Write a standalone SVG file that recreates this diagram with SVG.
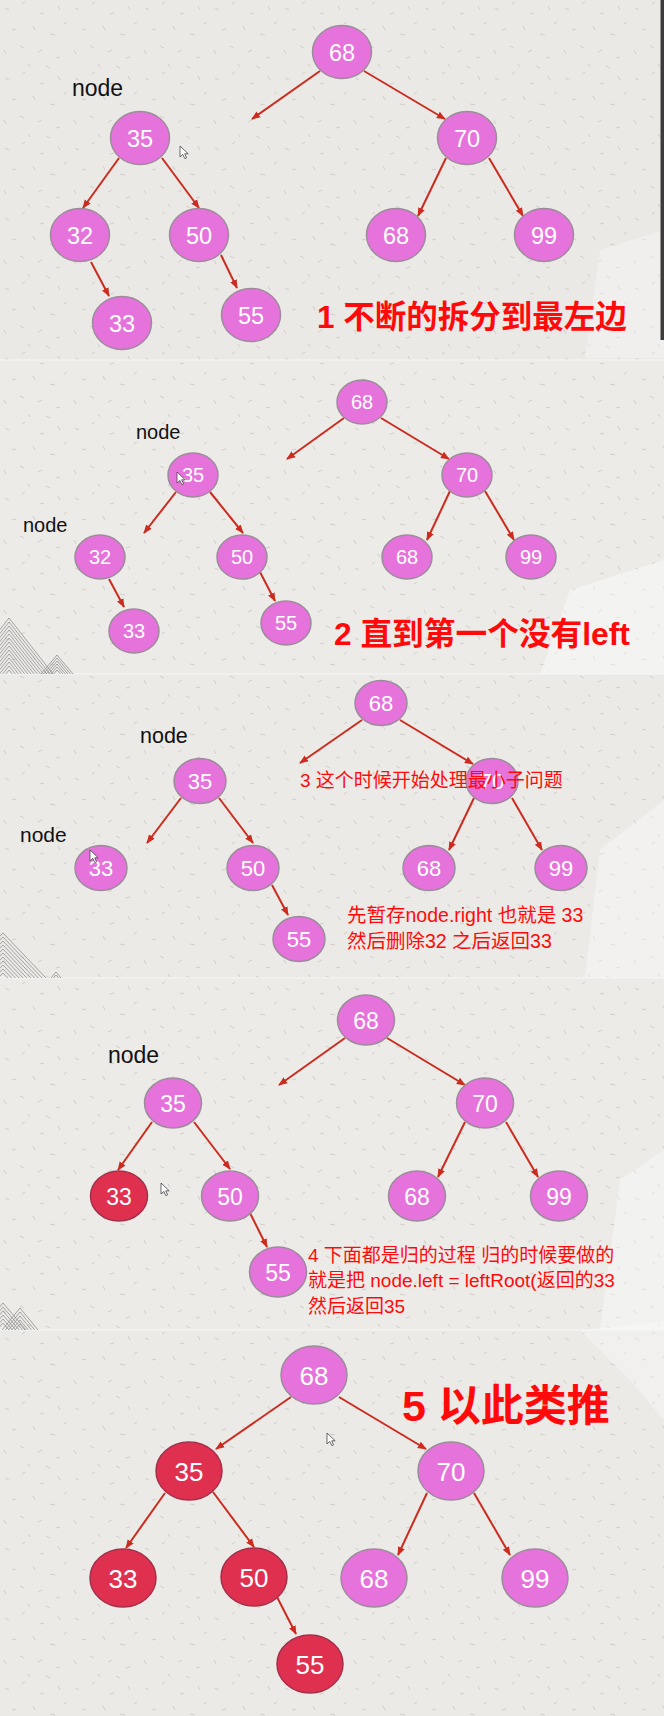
<svg xmlns="http://www.w3.org/2000/svg" xmlns:xlink="http://www.w3.org/1999/xlink" width="664" height="1716" viewBox="0 0 664 1716">
<defs>
<style>
.n{fill:#E673DB;stroke:#9c8b9b;stroke-width:1.5}
.r{fill:#E0304F;stroke:#a3304a;stroke-width:1.5}
.t{fill:#ffffff;font-family:"Liberation Sans","DejaVu Sans",sans-serif;text-anchor:middle}
.e line{stroke:#cc2b1f;stroke-width:2;marker-end:url(#ah)}
.lbl{fill:#111111;font-family:"Liberation Sans","DejaVu Sans",sans-serif}
.red{fill:#ff0a0a;font-family:"Liberation Sans","Noto Sans CJK SC",sans-serif}
.big{font-weight:bold}
.cur{fill:#ffffff;stroke:#444444;stroke-width:0.8}
.hatch{fill:none;stroke:#8f8f8f;stroke-width:0.8}
</style>
<marker id="ah" viewBox="0 0 10 10" refX="9" refY="5" markerWidth="9" markerHeight="9" markerUnits="userSpaceOnUse" orient="auto">
<path d="M0,1 L10,5 L0,9 z" fill="#cc2b1f"/>
</marker>
<pattern id="tex" width="70" height="70" patternUnits="userSpaceOnUse">
<g stroke="#b0aeab" stroke-width="0.7" opacity="0.7">
<line x1="5" y1="8" x2="9" y2="10"/>
<line x1="22" y1="4" x2="25" y2="2"/>
<line x1="40" y1="14" x2="44" y2="13"/>
<line x1="58" y1="6" x2="60" y2="10"/>
<line x1="12" y1="30" x2="16" y2="29"/>
<line x1="33" y1="26" x2="35" y2="30"/>
<line x1="50" y1="34" x2="55" y2="35"/>
<line x1="64" y1="24" x2="67" y2="22"/>
<line x1="4" y1="50" x2="6" y2="54"/>
<line x1="20" y1="46" x2="24" y2="48"/>
<line x1="38" y1="52" x2="42" y2="50"/>
<line x1="56" y1="58" x2="60" y2="57"/>
<line x1="28" y1="64" x2="30" y2="67"/>
<line x1="46" y1="66" x2="50" y2="68"/>
</g>
</pattern>
<clipPath id="c2"><rect x="0" y="600" width="100" height="74"/></clipPath>
<clipPath id="c3"><rect x="0" y="900" width="100" height="78"/></clipPath>
<clipPath id="c4"><rect x="0" y="1260" width="100" height="70"/></clipPath>
<path id="cursor" d="M0,0 L0,11 L2.8,8.4 L4.8,12.6 L6.6,11.8 L4.7,7.8 L8.2,7.8 z"/>
</defs>

<g id="background">
<rect x="0" y="0" width="664" height="360" fill="#ebe9e6"/>
<rect x="0" y="360" width="664" height="314" fill="#ecebe8"/>
<rect x="0" y="674" width="664" height="304" fill="#ebeae7"/>
<rect x="0" y="978" width="664" height="352" fill="#ecebe8"/>
<rect x="0" y="1330" width="664" height="386" fill="#ebeae7"/>
<rect x="0" y="0" width="664" height="1716" fill="url(#tex)"/>
<path d="M600,250 L664,230 L664,358 L585,358 Z" fill="#ffffff" opacity="0.3"/>
<path d="M570,590 L664,560 L664,674 L540,674 Z" fill="#ffffff" opacity="0.4"/>
<path d="M600,850 L664,800 L664,978 L585,978 Z" fill="#ffffff" opacity="0.35"/>
<path d="M620,1180 L664,1150 L664,1330 L600,1330 Z" fill="#ffffff" opacity="0.35"/>
<path d="M580,1330 L664,1322 L664,1420 L630,1380 Z" fill="#ffffff" opacity="0.3"/>
<rect x="660.5" y="0" width="3.5" height="340" fill="#3c3c3c"/>
<line x1="0" y1="360" x2="664" y2="360" stroke="#f6f6f5" stroke-width="1"/>
<line x1="0" y1="674" x2="664" y2="674" stroke="#f6f6f5" stroke-width="1"/>
<line x1="0" y1="978" x2="664" y2="978" stroke="#f6f6f5" stroke-width="1"/>
<line x1="0" y1="1330" x2="664" y2="1330" stroke="#f6f6f5" stroke-width="1"/>
</g>

<g id="decorations">
<g clip-path="url(#c2)" class="hatch">
<path id="chevA" d="M-35,674 L9,618 L53,674"/>
<use xlink:href="#chevA" href="#chevA" y="4"/>
<use xlink:href="#chevA" href="#chevA" y="8"/>
<use xlink:href="#chevA" href="#chevA" y="12"/>
<use xlink:href="#chevA" href="#chevA" y="16"/>
<use xlink:href="#chevA" href="#chevA" y="20"/>
<use xlink:href="#chevA" href="#chevA" y="24"/>
<use xlink:href="#chevA" href="#chevA" y="28"/>
<use xlink:href="#chevA" href="#chevA" y="32"/>
<use xlink:href="#chevA" href="#chevA" y="36"/>
<use xlink:href="#chevA" href="#chevA" y="40"/>
<use xlink:href="#chevA" href="#chevA" y="44"/>
<use xlink:href="#chevA" href="#chevA" y="48"/>
<use xlink:href="#chevA" href="#chevA" y="52"/>
<path id="chevB" d="M41,674 L57,655 L73,674"/>
<use xlink:href="#chevB" href="#chevB" y="3"/>
<use xlink:href="#chevB" href="#chevB" y="6"/>
<use xlink:href="#chevB" href="#chevB" y="9"/>
<use xlink:href="#chevB" href="#chevB" y="12"/>
<use xlink:href="#chevB" href="#chevB" y="15"/>
</g>
<g clip-path="url(#c3)" class="hatch">
<path id="chevC" d="M-40,978 L3,933 L46,978"/>
<use xlink:href="#chevC" href="#chevC" y="4"/>
<use xlink:href="#chevC" href="#chevC" y="8"/>
<use xlink:href="#chevC" href="#chevC" y="12"/>
<use xlink:href="#chevC" href="#chevC" y="16"/>
<use xlink:href="#chevC" href="#chevC" y="20"/>
<use xlink:href="#chevC" href="#chevC" y="24"/>
<use xlink:href="#chevC" href="#chevC" y="28"/>
<use xlink:href="#chevC" href="#chevC" y="32"/>
<use xlink:href="#chevC" href="#chevC" y="36"/>
<use xlink:href="#chevC" href="#chevC" y="40"/>
<path id="chevD" d="M51,978 L56,972 L61,978"/>
<use xlink:href="#chevD" href="#chevD" y="3"/>
</g>
<g clip-path="url(#c4)" class="hatch">
<path id="chevE" d="M-20,1330 L3,1303 L26,1330"/>
<use xlink:href="#chevE" href="#chevE" y="4"/>
<use xlink:href="#chevE" href="#chevE" y="8"/>
<use xlink:href="#chevE" href="#chevE" y="12"/>
<use xlink:href="#chevE" href="#chevE" y="16"/>
<use xlink:href="#chevE" href="#chevE" y="20"/>
<path id="chevF" d="M2,1330 L20,1308 L38,1330"/>
<use xlink:href="#chevF" href="#chevF" y="4"/>
<use xlink:href="#chevF" href="#chevF" y="8"/>
<use xlink:href="#chevF" href="#chevF" y="12"/>
<use xlink:href="#chevF" href="#chevF" y="16"/>
</g>
</g>

<g id="connectors" class="e">
<!-- panel 1 -->
<line x1="320" y1="71" x2="252" y2="119"/>
<line x1="364" y1="71" x2="445" y2="119"/>
<line x1="119" y1="158" x2="83" y2="208"/>
<line x1="162" y1="158" x2="199" y2="208"/>
<line x1="446" y1="158" x2="418" y2="216"/>
<line x1="489" y1="158" x2="523" y2="216"/>
<line x1="91" y1="262" x2="109" y2="296"/>
<line x1="221" y1="255" x2="237" y2="288"/>
<!-- panel 2 -->
<line x1="344" y1="418" x2="287" y2="459"/>
<line x1="381" y1="418" x2="449" y2="459"/>
<line x1="176" y1="492" x2="144" y2="533"/>
<line x1="210" y1="492" x2="243" y2="533"/>
<line x1="450" y1="491" x2="427" y2="540"/>
<line x1="485" y1="491" x2="514" y2="540"/>
<line x1="109" y1="579" x2="124" y2="607"/>
<line x1="260" y1="572" x2="275" y2="601"/>
<!-- panel 3 -->
<line x1="362" y1="720" x2="300" y2="763"/>
<line x1="400" y1="720" x2="473" y2="764"/>
<line x1="181" y1="798" x2="147" y2="843"/>
<line x1="219" y1="798" x2="253" y2="843"/>
<line x1="474" y1="798" x2="449" y2="850"/>
<line x1="512" y1="798" x2="542" y2="850"/>
<line x1="272" y1="885" x2="288" y2="915"/>
<!-- panel 4 -->
<line x1="345" y1="1038" x2="279" y2="1085"/>
<line x1="387" y1="1038" x2="465" y2="1085"/>
<line x1="152" y1="1122" x2="118" y2="1170"/>
<line x1="194" y1="1122" x2="230" y2="1169"/>
<line x1="465" y1="1122" x2="438" y2="1177"/>
<line x1="506" y1="1122" x2="538" y2="1177"/>
<line x1="250" y1="1213" x2="267" y2="1247"/>
<!-- panel 5 -->
<line x1="291" y1="1397" x2="216" y2="1449"/>
<line x1="339" y1="1397" x2="426" y2="1449"/>
<line x1="165" y1="1493" x2="126" y2="1548"/>
<line x1="213" y1="1492" x2="254" y2="1547"/>
<line x1="427" y1="1493" x2="398" y2="1555"/>
<line x1="474" y1="1493" x2="510" y2="1555"/>
<line x1="277" y1="1597" x2="296" y2="1634"/>
</g>

<!-- panel 1 nodes -->
<g id="p1-68"><ellipse class="n" cx="342" cy="52" rx="29.5" ry="26.5"/><text class="t" x="342" y="60.5" font-size="23.5">68</text></g>
<g id="p1-35"><ellipse class="n" cx="140" cy="138" rx="29.5" ry="26.5"/><text class="t" x="140" y="146.5" font-size="23.5">35</text></g>
<g id="p1-70"><ellipse class="n" cx="467" cy="138" rx="29.5" ry="26.5"/><text class="t" x="467" y="146.5" font-size="23.5">70</text></g>
<g id="p1-32"><ellipse class="n" cx="80" cy="235" rx="29.5" ry="26.5"/><text class="t" x="80" y="243.5" font-size="23.5">32</text></g>
<g id="p1-50"><ellipse class="n" cx="199" cy="235" rx="29.5" ry="26.5"/><text class="t" x="199" y="243.5" font-size="23.5">50</text></g>
<g id="p1-68b"><ellipse class="n" cx="396" cy="235" rx="29.5" ry="26.5"/><text class="t" x="396" y="243.5" font-size="23.5">68</text></g>
<g id="p1-99"><ellipse class="n" cx="544" cy="235" rx="29.5" ry="26.5"/><text class="t" x="544" y="243.5" font-size="23.5">99</text></g>
<g id="p1-33"><ellipse class="n" cx="122" cy="323" rx="29.5" ry="26.5"/><text class="t" x="122" y="331.5" font-size="23.5">33</text></g>
<g id="p1-55"><ellipse class="n" cx="251" cy="315" rx="29.5" ry="26.5"/><text class="t" x="251" y="323.5" font-size="23.5">55</text></g>
<g id="p1-labels">
<text class="lbl" x="72" y="96" font-size="23">node</text>
<text class="red big" x="317" y="328" font-size="31.5">1 不断的拆分到最左边</text>
</g>

<!-- panel 2 nodes -->
<g id="p2-68"><ellipse class="n" cx="362" cy="402" rx="25" ry="22"/><text class="t" x="362" y="409" font-size="20">68</text></g>
<g id="p2-35"><ellipse class="n" cx="193" cy="475" rx="25" ry="22"/><text class="t" x="193" y="482" font-size="20">35</text></g>
<g id="p2-70"><ellipse class="n" cx="467" cy="475" rx="25" ry="22"/><text class="t" x="467" y="482" font-size="20">70</text></g>
<g id="p2-32"><ellipse class="n" cx="100" cy="557" rx="25" ry="22"/><text class="t" x="100" y="564" font-size="20">32</text></g>
<g id="p2-50"><ellipse class="n" cx="242" cy="557" rx="25" ry="22"/><text class="t" x="242" y="564" font-size="20">50</text></g>
<g id="p2-68b"><ellipse class="n" cx="407" cy="557" rx="25" ry="22"/><text class="t" x="407" y="564" font-size="20">68</text></g>
<g id="p2-99"><ellipse class="n" cx="531" cy="557" rx="25" ry="22"/><text class="t" x="531" y="564" font-size="20">99</text></g>
<g id="p2-33"><ellipse class="n" cx="134" cy="631" rx="25" ry="22"/><text class="t" x="134" y="638" font-size="20">33</text></g>
<g id="p2-55"><ellipse class="n" cx="286" cy="623" rx="25" ry="22"/><text class="t" x="286" y="630" font-size="20">55</text></g>
<g id="p2-labels">
<text class="lbl" x="136" y="439" font-size="20">node</text>
<text class="lbl" x="23" y="532" font-size="20">node</text>
<text class="red big" x="334" y="645" font-size="31.7">2 直到第一个没有left</text>
</g>

<!-- panel 3 nodes -->
<g id="p3-68"><ellipse class="n" cx="381" cy="703" rx="26" ry="22.5"/><text class="t" x="381" y="711" font-size="22">68</text></g>
<g id="p3-35"><ellipse class="n" cx="200" cy="781" rx="26" ry="22.5"/><text class="t" x="200" y="789" font-size="22">35</text></g>
<g id="p3-70"><ellipse class="n" cx="492" cy="781" rx="26" ry="22.5"/><text class="t" x="492" y="789" font-size="22">70</text></g>
<g id="p3-33"><ellipse class="n" cx="101" cy="868" rx="26" ry="22.5"/><text class="t" x="101" y="876" font-size="22">33</text></g>
<g id="p3-50"><ellipse class="n" cx="253" cy="868" rx="26" ry="22.5"/><text class="t" x="253" y="876" font-size="22">50</text></g>
<g id="p3-68b"><ellipse class="n" cx="429" cy="868" rx="26" ry="22.5"/><text class="t" x="429" y="876" font-size="22">68</text></g>
<g id="p3-99"><ellipse class="n" cx="561" cy="868" rx="26" ry="22.5"/><text class="t" x="561" y="876" font-size="22">99</text></g>
<g id="p3-55"><ellipse class="n" cx="299" cy="939" rx="26" ry="22.5"/><text class="t" x="299" y="947" font-size="22">55</text></g>
<g id="p3-labels">
<text class="lbl" x="140" y="743" font-size="21.5">node</text>
<text class="lbl" x="20" y="842" font-size="21">node</text>
<text class="red" x="300" y="787" font-size="19">3 这个时候开始处理最小子问题</text>
<text class="red" x="347" y="922" font-size="19.5">先暂存node.right 也就是 33</text>
<text class="red" x="347" y="948" font-size="19.5">然后删除32 之后返回33</text>
</g>

<!-- panel 4 nodes -->
<g id="p4-68"><ellipse class="n" cx="366" cy="1020" rx="28.5" ry="25"/><text class="t" x="366" y="1028.5" font-size="23">68</text></g>
<g id="p4-35"><ellipse class="n" cx="173" cy="1103" rx="28.5" ry="25"/><text class="t" x="173" y="1111.5" font-size="23">35</text></g>
<g id="p4-70"><ellipse class="n" cx="485" cy="1103" rx="28.5" ry="25"/><text class="t" x="485" y="1111.5" font-size="23">70</text></g>
<g id="p4-33"><ellipse class="r" cx="119" cy="1196" rx="28.5" ry="25"/><text class="t" x="119" y="1204.5" font-size="23">33</text></g>
<g id="p4-50"><ellipse class="n" cx="230" cy="1196" rx="28.5" ry="25"/><text class="t" x="230" y="1204.5" font-size="23">50</text></g>
<g id="p4-68b"><ellipse class="n" cx="417" cy="1196" rx="28.5" ry="25"/><text class="t" x="417" y="1204.5" font-size="23">68</text></g>
<g id="p4-99"><ellipse class="n" cx="559" cy="1196" rx="28.5" ry="25"/><text class="t" x="559" y="1204.5" font-size="23">99</text></g>
<g id="p4-55"><ellipse class="n" cx="278" cy="1272" rx="28.5" ry="25"/><text class="t" x="278" y="1280.5" font-size="23">55</text></g>
<g id="p4-labels">
<text class="lbl" x="108" y="1063" font-size="23">node</text>
<text class="red" x="308" y="1262" font-size="19">4 下面都是归的过程 归的时候要做的</text>
<text class="red" x="308" y="1287" font-size="19">就是把 node.left = leftRoot(返回的33</text>
<text class="red" x="308" y="1313" font-size="19">然后返回35</text>
</g>

<!-- panel 5 nodes -->
<g id="p5-68"><ellipse class="n" cx="314" cy="1375" rx="33" ry="29"/><text class="t" x="314" y="1384.5" font-size="26">68</text></g>
<g id="p5-35"><ellipse class="r" cx="189" cy="1471" rx="33" ry="29"/><text class="t" x="189" y="1480.5" font-size="26">35</text></g>
<g id="p5-70"><ellipse class="n" cx="451" cy="1471" rx="33" ry="29"/><text class="t" x="451" y="1480.5" font-size="26">70</text></g>
<g id="p5-33"><ellipse class="r" cx="123" cy="1578" rx="33" ry="29"/><text class="t" x="123" y="1587.5" font-size="26">33</text></g>
<g id="p5-50"><ellipse class="r" cx="254" cy="1577" rx="33" ry="29"/><text class="t" x="254" y="1586.5" font-size="26">50</text></g>
<g id="p5-68b"><ellipse class="n" cx="374" cy="1578" rx="33" ry="29"/><text class="t" x="374" y="1587.5" font-size="26">68</text></g>
<g id="p5-99"><ellipse class="n" cx="535" cy="1578" rx="33" ry="29"/><text class="t" x="535" y="1587.5" font-size="26">99</text></g>
<g id="p5-55"><ellipse class="r" cx="310" cy="1664" rx="33" ry="29"/><text class="t" x="310" y="1673.5" font-size="26">55</text></g>
<g id="p5-labels">
<text class="red big" x="402" y="1421" font-size="43">5 以此类推</text>
</g>

<g id="cursors">
<use xlink:href="#cursor" href="#cursor" class="cur" x="180" y="146"/>
<use xlink:href="#cursor" href="#cursor" class="cur" x="177" y="472"/>
<use xlink:href="#cursor" href="#cursor" class="cur" x="90" y="850"/>
<use xlink:href="#cursor" href="#cursor" class="cur" x="161" y="1183"/>
<use xlink:href="#cursor" href="#cursor" class="cur" x="327" y="1433"/>
</g>
</svg>
